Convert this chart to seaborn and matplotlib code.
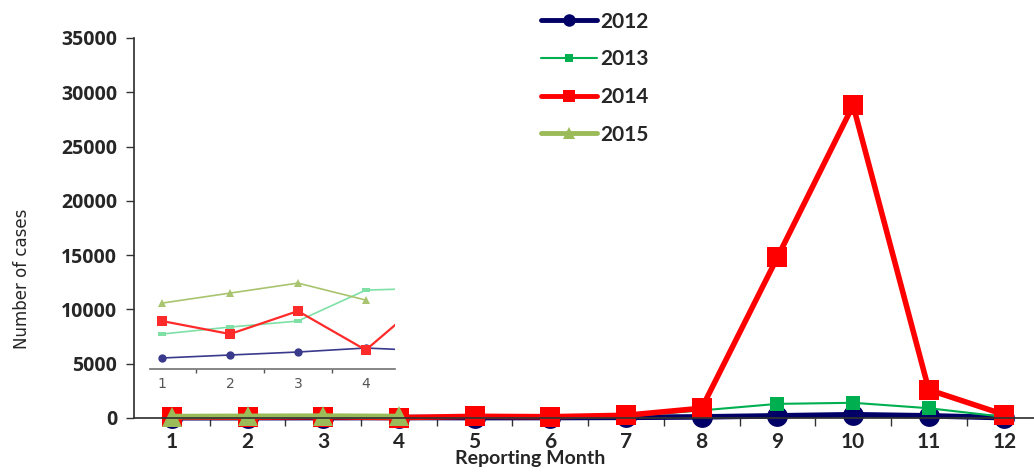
import seaborn as sns
import pandas as pd
import matplotlib.pyplot as plt

sns.set_theme(style="white")

months = list(range(1, 13))
cases_2012 = [22, 28, 34, 42, 36, 40, 60, 100, 200, 300, 200, 30]
cases_2013 = [70, 84, 96, 158, 162, 60, 150, 700, 1300, 1400, 900, 100]
cases_2014 = [96, 70, 116, 38, 154, 120, 250, 900, 14800, 28800, 2600, 300]
cases_2015 = [132, 152, 172, 138]

years = ["2012", "2013", "2014", "2015"]
colors = {"2012": "#000066", "2013": "#00b050", "2014": "#ff0000", "2015": "#9bbb59"}
inset_colors = {"2012": "#3a3a8c", "2013": "#7fe0a6", "2014": "#ff2a2a", "2015": "#a9c46e"}
markers = {"2012": "o", "2013": "s", "2014": "s", "2015": "^"}
widths = {"2012": 4, "2013": 1.5, "2014": 4, "2015": 4}
msizes = {"2012": 15, "2013": 10, "2014": 15, "2015": 15}

# flat markers used in the zoomed inset
flat_rect = [(-1, -0.45), (1, -0.45), (1, 0.45), (-1, 0.45), (-1, -0.45)]
inset_markers = {"2012": "o", "2013": flat_rect, "2014": "s", "2015": "^"}


def get_data():
    rows = []
    for year, vals in zip(years, [cases_2012, cases_2013, cases_2014, cases_2015]):
        for m, v in zip(months, vals):
            rows.append({"year": year, "month": m, "cases": v})
    return pd.DataFrame(rows)


def main():
    data = get_data()
    fig = plt.figure(figsize=(10.34, 4.73), dpi=100)
    ax = fig.add_axes([0.1296, 0.1163, 0.8704, 0.8034])

    for y in years:
        sns.lineplot(
            data=data[data["year"] == y],
            x="month",
            y="cases",
            label=y,
            color=colors[y],
            marker=markers[y],
            markersize=msizes[y],
            markeredgewidth=0,
            linewidth=widths[y],
            ax=ax,
        )
    for line in ax.get_lines():
        line.set_clip_on(False)

    ax.set_xlim(0.5, 12.39)
    ax.set_ylim(0, 35000)
    ax.set_yticks(range(0, 35001, 5000))
    ax.set_xticks(months)
    ax.set_xticks([m + 0.5 for m in range(1, 12)], minor=True)
    ax.tick_params(axis="x", which="major", length=0, pad=10)
    ax.tick_params(axis="x", which="minor", length=6, width=1, color="#333333", direction="out", bottom=True)
    ax.tick_params(axis="y", length=6, width=1, color="#333333", left=True, pad=6)
    for lab in ax.get_xticklabels():
        lab.set_fontfamily("Lato")
        lab.set_fontweight("bold")
        lab.set_fontsize(15)
    for lab in ax.get_yticklabels():
        lab.set_fontfamily("Open Sans")
        lab.set_fontweight("bold")
        lab.set_fontsize(14)
    ax.spines["top"].set_visible(False)
    ax.spines["right"].set_visible(False)
    ax.spines["left"].set_color("#333333")
    ax.spines["bottom"].set_color("#333333")
    ax.set_xlabel("")
    ax.set_ylabel("")
    fig.text(0.513, 0.012, "Reporting Month", ha="center", va="bottom",
             fontsize=14, fontweight="bold", family="Lato")
    fig.text(0.021, 0.41, "Number of cases", rotation=90, ha="center", va="center",
             fontsize=12, family="DejaVu Sans")

    leg = ax.legend(
        loc="upper left",
        bbox_to_anchor=(0.505, 1.015),
        bbox_transform=fig.transFigure,
        frameon=False,
        handlelength=2.7,
        handletextpad=0.15,
        labelspacing=0.85,
        markerscale=0.6,
        prop={"family": "Lato", "weight": "bold", "size": 15},
    )
    for h in leg.get_lines():
        h.set_linewidth(min(h.get_linewidth(), 3.5))

    # zoomed inset of the first months
    ins = fig.add_axes([0.145, 0.2199, 0.237, 0.209])
    ins.patch.set_alpha(0)
    inset_sizes = {"2012": 6, "2013": 6, "2014": 7, "2015": 6}
    for y in years:
        sub = data[(data["year"] == y) & (data["month"] <= 5)]
        sns.lineplot(
            data=sub,
            x="month",
            y="cases",
            color=inset_colors[y],
            marker=inset_markers[y],
            markersize=inset_sizes[y],
            markeredgewidth=0,
            linewidth=1.2 if y != "2014" else 1.6,
            ax=ins,
            legend=False,
        )
    ins.set_xlim(0.82, 4.43)
    ins.set_ylim(0, 198)
    ins.set_yticks([])
    ins.set_xticks([1, 2, 3, 4])
    ins.set_xticks([1.5, 2.5, 3.5], minor=True)
    ins.tick_params(axis="x", which="major", length=0, labelsize=10, labelcolor="#555555", pad=6)
    ins.tick_params(axis="x", which="minor", length=3, color="#555555", bottom=True)
    for s in ["top", "right", "left"]:
        ins.spines[s].set_visible(False)
    ins.spines["bottom"].set_color("#777777")
    ins.set_xlabel("")
    ins.set_ylabel("")

    fig.savefig("out.png", dpi=100)


if __name__ == "__main__":
    main()
